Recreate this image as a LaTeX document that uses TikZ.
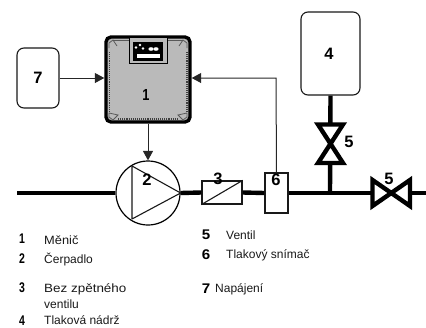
\documentclass[tikz,border=0pt]{standalone}
\usepackage{fontspec}
\setmainfont{Liberation Sans}
\usetikzlibrary{arrows.meta}
\tikzset{
  pipe/.style={line width=4.4pt,black},
  sig/.style={line width=1pt,draw=black!85,-{Triangle[length=9.5pt,width=10pt]}},
  softbox/.style={draw=black!90,line width=1.1pt,rounded corners=7pt,fill=white},
  tag/.style={font=\fontsize{16}{16}\selectfont\bfseries,inner sep=0pt,xscale=0.8},
  bignum/.style={font=\fontsize{16.5}{16.5}\selectfont\bfseries,inner sep=0pt},
  num/.style={font=\fontsize{14}{14}\selectfont\bfseries,inner sep=0pt,xscale=0.75},
  wnum/.style={font=\fontsize{14}{14}\selectfont\bfseries,inner sep=0pt,xscale=1.08},
  txt/.style={font=\fontsize{12}{12}\selectfont,inner sep=0pt,anchor=west,text=black!90},
  valve/.style={draw=black,line width=4.4pt,fill=white,line join=miter,miter limit=3}
}
\begin{document}
\begin{tikzpicture}[x=1pt,y=-1pt]
\useasboundingbox (0,0) rectangle (426,327);
% coordinates
\coordinate (pL) at (17,193);
\coordinate (pR) at (426,193);
\coordinate (tee) at (330,193);
\coordinate (bend) at (276,78);
% boxes
\node[draw=black,line width=1.2pt,fill=white,minimum width=64pt,minimum height=64pt,circle,inner sep=0pt] (pump) at (148,193) {};
\node[draw=black!90,line width=1.1pt,fill=white,minimum width=40pt,minimum height=23pt,inner sep=0pt] (chk) at (222,192.5) {};
\node[draw=black!90,line width=1.1pt,fill=white,minimum width=23pt,minimum height=40pt,inner sep=0pt] (sens) at (276.5,193) {};
\node[softbox,minimum width=59pt,minimum height=83pt,inner sep=0pt] (tank) at (330.5,53.5) {};
\node[softbox,minimum width=42pt,minimum height=60pt,inner sep=0pt] (pwr) at (38,78) {};
\draw[pipe] (pL) -- (pump.west);
\draw[pipe] (pump.east) -- (chk.west);
\draw[pipe] (chk.east) -- (sens.west);
\draw[pipe] (sens.east) -- (pR);
\draw[pipe] (tank.south) -- (tee);
% pump triangle
\draw[black!90,line width=1.1pt,line join=round] (132,166) -- (132,219) -- (pump.east) -- cycle;
% check diagonal
\draw[black!90,line width=1.1pt] (chk.south west) -- (chk.north east);
% valves
\draw[valve] (318,124.5) -- (343,124.5) -- (318,163) -- (343,163) -- cycle;
\draw[valve] (372.5,180) -- (372.5,206) -- (410,180) -- (410,206) -- cycle;
% converter
\node[draw=black,line width=3.4pt,rounded corners=5pt,fill=black!27,minimum width=84pt,minimum height=85pt,inner sep=0pt] (conv) at (148,79.5) {};
\draw[black!75,line width=1.1pt,densely dotted] (109.5,52) -- (109.5,112);
\draw[black!75,line width=1.1pt,densely dotted] (187,52) -- (187,112);
\draw[black!75,line width=1.1pt,densely dotted] (118,119) -- (178,119);
\draw[black!65,line width=0.8pt] (109,48) -- (109,43) -- (113,40) -- (117,46);
\draw[black!65,line width=0.8pt] (187,48) -- (187,43) -- (183,40) -- (179,46);
\draw[black!65,line width=0.8pt] (109,113) -- (109,117) -- (113,120) -- (118,115) -- (109,113);
\draw[black!65,line width=0.8pt] (187,113) -- (187,117) -- (183,120) -- (178,115) -- (187,113);
\draw[black!65,line width=0.8pt] (113,40) -- (129,40);
\draw[black!65,line width=0.8pt] (167,40) -- (183,40);
\fill[black!27] (129,38) rectangle (167,63);
\draw[black,line width=1pt] (129,37) -- (129,63) -- (167,63) -- (167,37);
\fill[black] (133,42) rectangle (163,61);
\fill[white] (137,54) rectangle (160,58);
\fill[white] (140,45) circle (1.3);
\fill[white] (136,47.5) circle (1.3);
\fill[white] (143,48.5) circle (1.3);
\fill[white] (151,49) ellipse (2.6 and 1.8);
\fill[white] (156,49) ellipse (2.6 and 1.8);
% signals
\draw[sig] (pwr.east |- 0,78) -- (conv.west |- 0,78);
\draw[sig] (sens.north) -- (bend) -- (conv.east |- bend);
\draw[sig] (conv.south) -- (pump.north);
% labels on drawing
\node[bignum] (l7) at (38,78) {7};
\node[tag] (l1) at (146,95) {1};
\node[bignum] (l2) at (147,180) {2};
\node[bignum] (l3) at (218,179) {3};
\node[bignum] (l4) at (329,54) {4};
\node[bignum] (l5a) at (349,142) {5};
\node[bignum] (l5b) at (389,179) {5};
\node[bignum] (l6) at (276,180) {6};
% legend
\node[num] (n1) at (22,239) {1};
\node[num] (n2) at (22,259) {2};
\node[num] (n3) at (22,288) {3};
\node[num] (n4) at (22,320.5) {4};
\node[txt,xscale=1.07] (t1) at (44,240) {Měnič};
\node[txt] (t2) at (44,259.5) {Čerpadlo};
\node[txt,xscale=1.12] (t3) at (44,289) {Bez zpětného};
\node[txt] (t3b) at (44,304.5) {ventilu};
\node[txt] (t4) at (44,320.5) {Tlaková nádrž};
\node[wnum] (n5) at (206,235) {5};
\node[wnum] (n6) at (206,255) {6};
\node[wnum] (n7) at (206,289) {7};
\node[txt] (t5) at (226,235.5) {Ventil};
\node[txt] (t6) at (226,255.5) {Tlakový snímač};
\node[txt] (t7) at (215,289.5) {Napájení};
\end{tikzpicture}
\end{document}
